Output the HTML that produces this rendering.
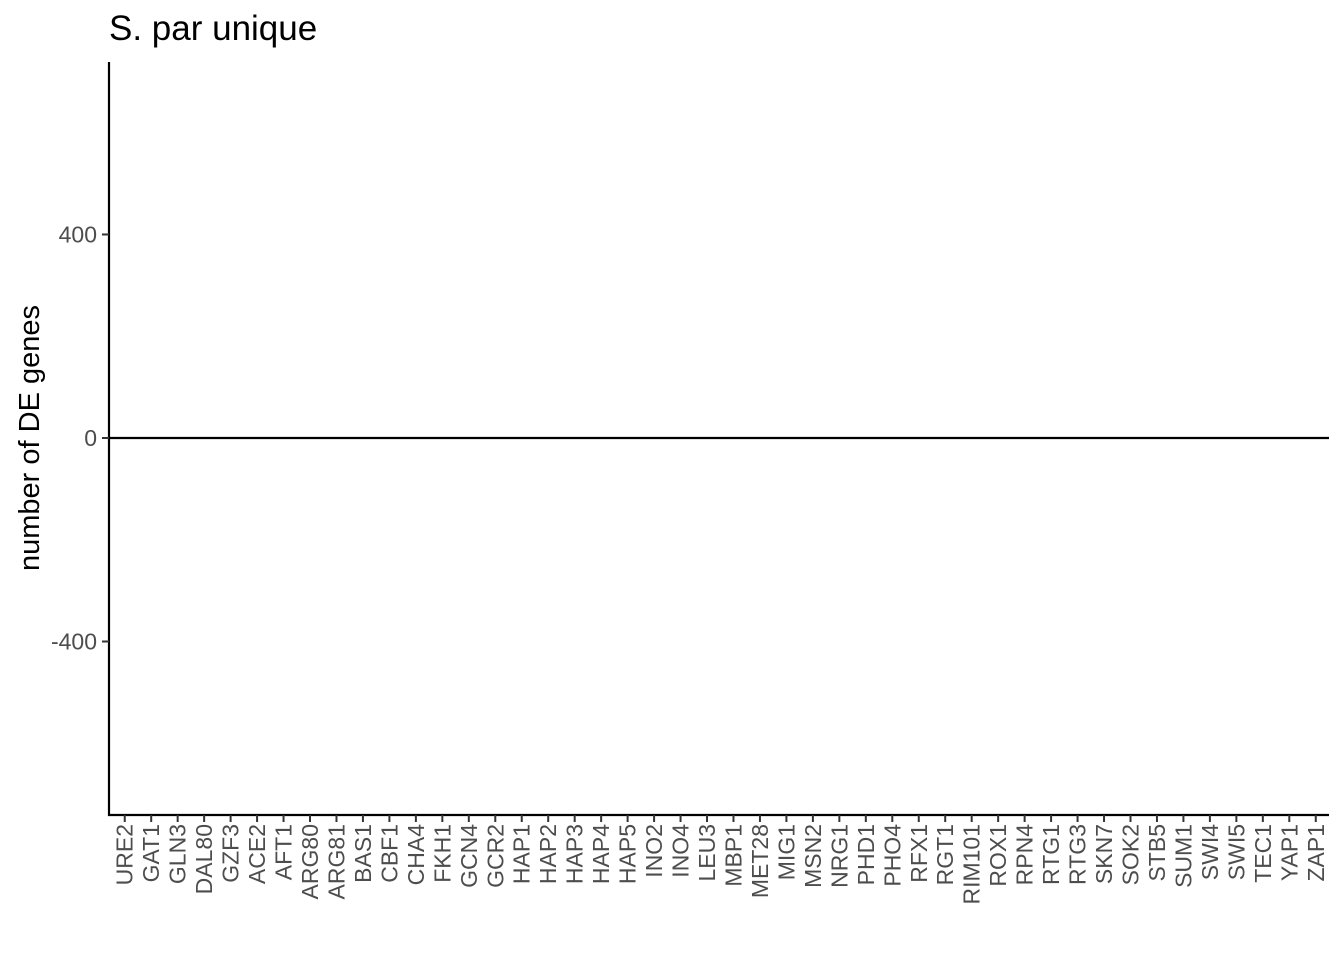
<!DOCTYPE html>
<html><head><meta charset="utf-8"><style>
html,body{margin:0;padding:0;background:#fff;}
svg{display:block;font-family:"Liberation Sans",Arial,sans-serif;}
</style></head><body>
<svg id="chart" width="1344" height="960">
<text x="109" y="40" font-size="35" fill="#000">S. par unique</text>
<text transform="translate(39,438) rotate(-90)" text-anchor="middle" font-size="29" fill="#000">number of DE genes</text>
<g id="bars"></g>
<g id="yaxis"></g>
<g id="xaxis"></g>
</svg>
<script>
const categories = ["URE2","GAT1","GLN3","DAL80","GZF3","ACE2","AFT1","ARG80","ARG81","BAS1","CBF1","CHA4","FKH1","GCN4","GCR2","HAP1","HAP2","HAP3","HAP4","HAP5","INO2","INO4","LEU3","MBP1","MET28","MIG1","MSN2","NRG1","PHD1","PHO4","RFX1","RGT1","RIM101","ROX1","RPN4","RTG1","RTG3","SKN7","SOK2","STB5","SUM1","SWI4","SWI5","TEC1","YAP1","ZAP1"];
const upValues = categories.map(() => 0);
const downValues = categories.map(() => 0);
const yTicks = [400, 0, -400];
const yTickLabels = ["400", "0", "-400"];

const NS = "http://www.w3.org/2000/svg";
const X0 = 111.5, X1 = 1329, YTOP = 62, YBOT = 815;
const yMin = -741, yMax = 739;
function y(v){ return YBOT - (v - yMin) / (yMax - yMin) * (YBOT - YTOP); }
const band = (X1 - X0) / categories.length;
function xc(i){ return X0 + band * (i + 0.5); }
function mk(tag, attrs, parent){ const e = document.createElementNS(NS, tag); for (const k in attrs) e.setAttribute(k, attrs[k]); parent.appendChild(e); return e; }

const bars = document.getElementById('bars');
categories.forEach((c, i) => {
  const w = band * 0.9;
  const u = upValues[i], d = downValues[i];
  const r1 = mk('rect', {x: xc(i) - w/2, y: Math.min(y(u), y(0)), width: w, height: Math.abs(y(u) - y(0)), fill: '#d95f02'}, bars);
  
  
  const r2 = mk('rect', {x: xc(i) - w/2, y: Math.min(y(d), y(0)), width: w, height: Math.abs(y(d) - y(0)), fill: '#1b9e77'}, bars);
  
  
});
const zl = mk('line', {x1: 109, x2: X1, y1: y(0), y2: y(0), stroke: '#000', 'stroke-width': 2.2}, bars);



const ya = document.getElementById('yaxis');
const yl = mk('line', {x1: 109, x2: 109, y1: YTOP, y2: YBOT + 1, stroke: '#000', 'stroke-width': 2.2}, ya);


yTicks.forEach((t, i) => {
  mk('line', {x1: 102, x2: 109, y1: y(t), y2: y(t), stroke: '#333', 'stroke-width': 2}, ya);
  const tx = mk('text', {x: 97, y: y(t) + 8, 'text-anchor': 'end', 'font-size': 23, fill: '#4d4d4d'}, ya);
  tx.textContent = yTickLabels[i];
  
  
});

const xa = document.getElementById('xaxis');
const xl = mk('line', {x1: 108, x2: X1, y1: YBOT, y2: YBOT, stroke: '#000', 'stroke-width': 2.2}, xa);


categories.forEach((c, i) => {
  mk('line', {x1: xc(i), x2: xc(i), y1: YBOT, y2: YBOT + 7, stroke: '#333', 'stroke-width': 2}, xa);
  const tx = mk('text', {transform: `translate(${xc(i) + 8},${YBOT + 9}) rotate(-90)`, 'text-anchor': 'end', 'font-size': 23, fill: '#4d4d4d'}, xa);
  tx.textContent = c;
  
  
});
</script>
</body></html>
